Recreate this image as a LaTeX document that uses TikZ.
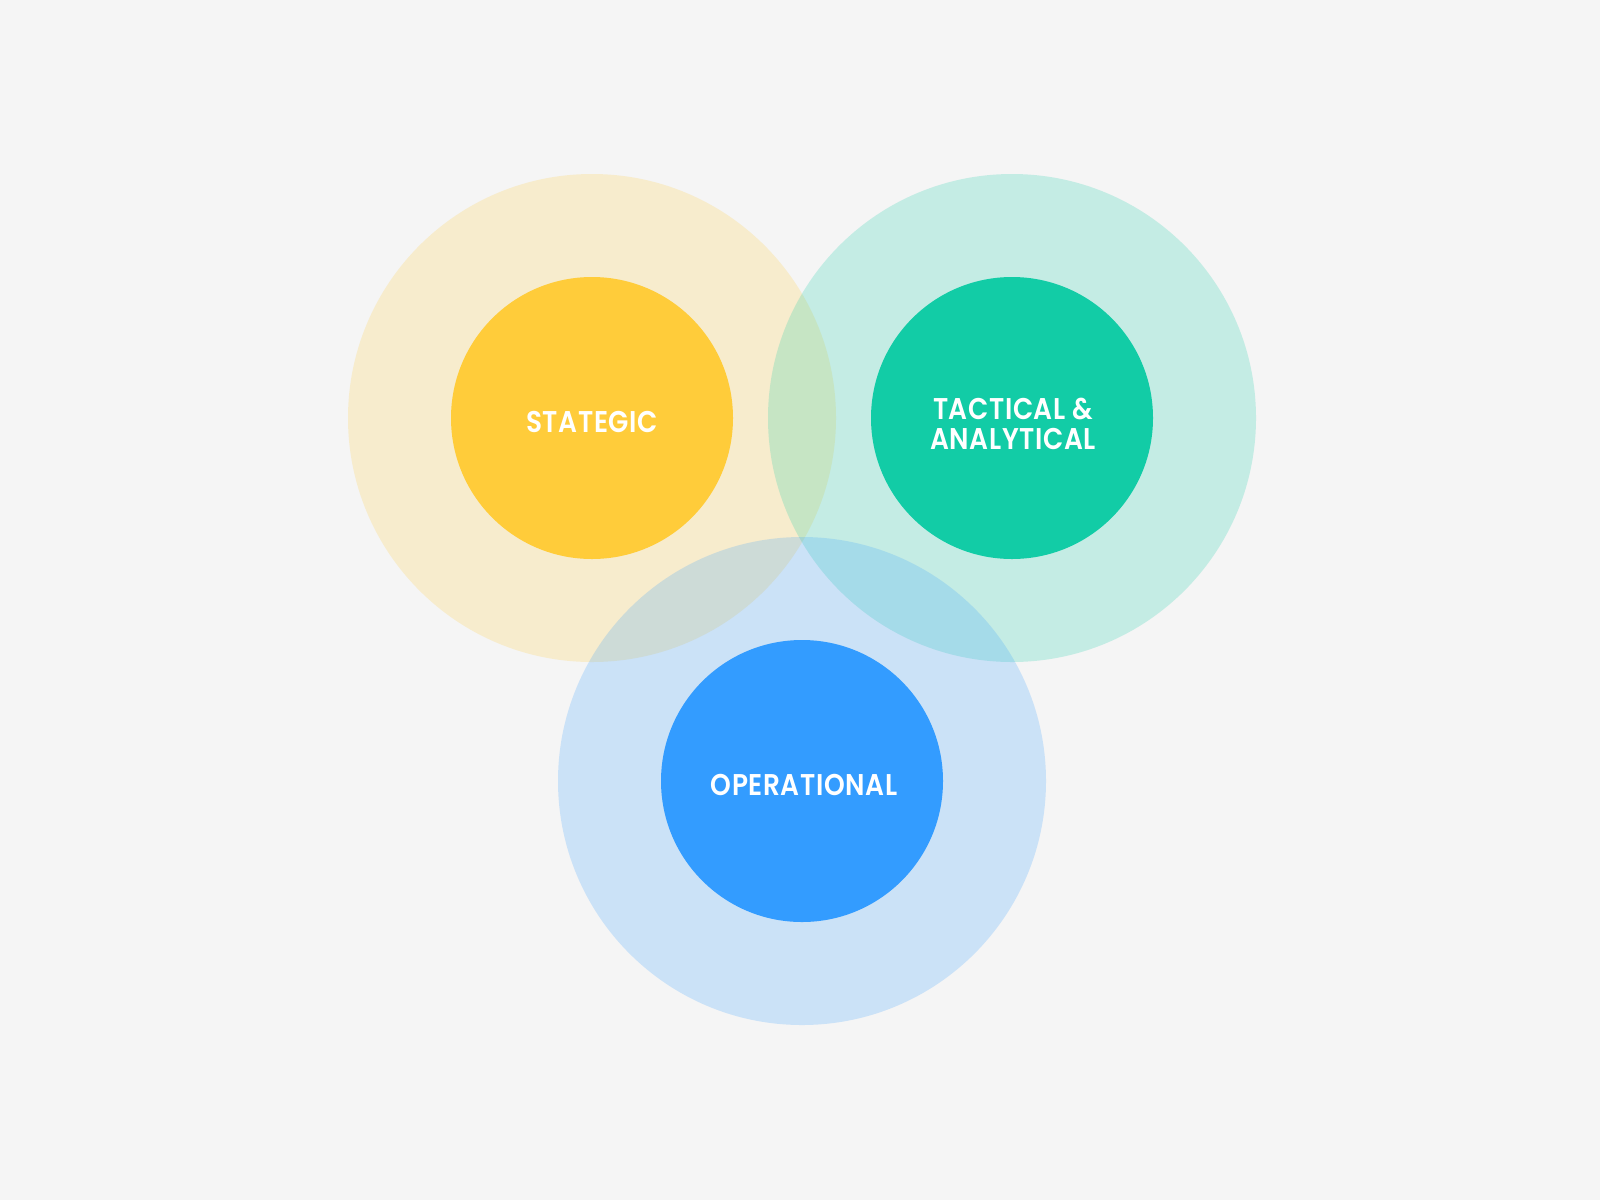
\documentclass[tikz,border=0pt]{standalone}
\usepackage{fontspec}
\setmainfont{Poppins}[FakeStretch=0.88,LetterSpace=2,BoldFont={Poppins SemiBold}]
\definecolor{bg}{HTML}{F5F5F5}
\definecolor{ylw}{HTML}{FFCC3A}
\definecolor{grn}{HTML}{12CCA6}
\definecolor{blu}{HTML}{339CFF}
\begin{document}
\begin{tikzpicture}[x=1pt,y=-1pt,
  halo/.style={circle,minimum size=488pt,inner sep=0pt,fill opacity=0.21},
  core/.style={circle,minimum size=282pt,inner sep=0pt},
  lbl/.style={text=white,font=\bfseries\fontsize{30}{30}\selectfont,align=center,inner sep=0pt}]
\fill[bg] (0,0) rectangle (1600,1200);
\useasboundingbox (0,0) rectangle (1600,1200);
\node[halo,fill=ylw] (hs) at (592,418) {};
\node[halo,fill=grn] (ht) at (1012,418) {};
\node[halo,fill=blu] (ho) at (802,781) {};
\node[core,fill=ylw] (cs) at (592,418) {};
\node[core,fill=grn] (ct) at (1012,418) {};
\node[core,fill=blu] (co) at (802,781) {};
\node[lbl] (ls) at (592,422) {STATEGIC};
\node[lbl] (lt) at (1013,424) {TACTICAL \&\\ANALYTICAL};
\node[lbl] (lo) at (804,785) {OPERATIONAL};
\end{tikzpicture}
\end{document}
